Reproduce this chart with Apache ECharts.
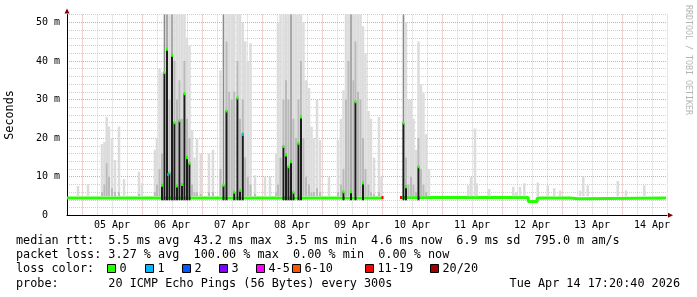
<!DOCTYPE html>
<html><head><meta charset="utf-8">
<script src="https://cdn.jsdelivr.net/npm/echarts@6/dist/echarts.min.js"></script>
<style>html,body{margin:0;padding:0;background:#fff}#c{width:697px;height:297px}</style>
</head><body><div id="c"></div>
<script>
// ---- data (x = hours since 04 Apr 00:00, y = milliseconds) ----
const xMin = 18, xMax = 258;
const dayLabelHours = [36, 60, 84, 108, 132, 156, 180, 204, 228, 252];
const dayLabels = ['05 Apr','06 Apr','07 Apr','08 Apr','09 Apr','10 Apr','11 Apr','12 Apr','13 Apr','14 Apr'];
const yTickValues = [0, 10, 20, 30, 40, 50];
const yTickLabels = ['0  ', '10 m', '20 m', '30 m', '40 m', '50 m'];

// smoke columns: hour, highest ping, dense band top, median
const smokeHour = [22.4,26.4,32.0,33.0,33.9,34.8,36.0,37.2,38.8,40.8,46.8,48.0,53.2,
  54,55,56,57,58,59,60,61,62,63,64,65,66,67,68,69,70,71.5,74.8,76.4,
  79.4,80.6,81.8,82.9,83.9,84.9,86.2,87.2,88.3,89.3,90.3,91.4,93.2,97.2,99.2,
  101.7,102.4,103.4,104.6,105.6,106.6,107.6,108.6,109.6,110.6,111.6,112.6,113.6,114.8,115.8,116.8,118.0,119.2,
  122.8,126.4,127.6,128.6,129.6,130.6,131.6,132.6,133.4,134.4,135.4,136.4,137.4,138.6,139.6,140.8,142.8,143.8,
  152.6,153.6,154.6,155.6,156.6,157.6,158.6,159.6,160.6,161.6,162.8,
  178.5,179.6,181.2,181.9,186.9,196.5,197.6,199.2,200.9,206.3,210.3,212.9,215.2,223.2,224.5,226.3,238.3,241.6,248.9];
const smokeMax = [7.6,8.1,18.5,19,25.5,23,20,14.3,23,9.4,11.3,8.3,17,
  20,38,37,55,55,55,55,55,55,55,52,55,46,44,22,15,20,16,16,17,
  37.6,55,55,55,55,55,55,55,50,45,40,44.6,10.4,10,10,
  16,50,55,55,55,55,55,55,55,55,55,50,35,33,23,20,30,19.5,
  10,19.5,25,32.4,55,55,55,55,55,55,55,49,42,27,25,15,25.5,10,
  55,50,30,30,25,17,45,34,31.6,21,12,
  7.8,10,22.5,8.3,6.8,7.4,6,7.4,8.3,8.5,7.8,7,6.4,6.4,10,7.8,8.9,6.4,7.8];
const smokeMid = [5,5,6,8,13.5,10,7,6,6,5,5.5,5,6,
  8,12,16,55,55,30,55,40,30,35,25,40,25,20,8,6,6,5.5,6,6,
  12,55,45,32,30,32,40,25,30,15,10,8,5.5,5,5,
  6,8,15,30,35,30,55,25,20,30,40,20,10,8,6,6,7,6,
  5,6,8,12,30,40,55,35,45,32,30,20,12,8,6,5.5,6,5,
  55,15,8,10,8,6,20,12,8,6,5,
  5,5,5,5,5,5,5,5,5,5,5,5,5,5,5,5,5,5,5];
const smokeMed = [4.5,4.5,4.5,4.5,4.8,4.8,4.5,4.5,4.5,4.5,4.5,4.5,4.5,
  4.6,5,7.8,37,43,11,41.5,24,7.6,24.5,8,31.5,15,13.5,4.8,4.6,4.6,4.6,4.5,4.5,
  4.6,7.8,27,5,5.5,6,30.4,6.5,21,5,4.6,4.5,4.5,4.5,4.5,
  4.5,4.5,5,17.8,15.6,12.6,13.9,6,5.5,18.7,25.5,5,4.6,4.5,4.5,4.5,4.5,4.5,
  4.5,4.5,4.5,6.1,5,5.5,6.1,5.5,29.4,5.5,5,8.4,5,4.5,4.5,4.5,4.5,4.5,
  23.9,7.4,4.6,4.6,4.5,4.5,12.6,4.6,4.5,4.5,4.5,
  4.5,4.5,4.5,4.5,4.5,4.5,4.5,4.5,4.5,4.5,4.5,4.5,4.5,4.5,4.5,4.5,4.5,4.5,4.5];

// median line (step) at low latency; null = no data
const medianHour  = [18, 144.4, 144.5, 151.6, 202.5, 206.1, 219.2, 222.4, 257.6];
const medianValue = [4.5, 4.5, null, 4.6, 3.6, 4.5, 4.3, 4.5, 4.5];

// medians coloured by packet loss
const lossHour  = [58.5, 88.3, 144.2, 151.6];
const lossValue = [10.6, 21, 4.6, 4.6];
const lossLevel = [1, 1, 6, 6];

const lossLabels = ['0','1','2','3','4-5','6-10','11-19','20/20'];
const lossColors = ['#26ff00','#00b8ff','#0059ff','#7e00ff','#ff00ff','#ff5500','#ff0000','#a10000'];

const legendLines = [
  'median rtt:  5.5 ms avg  43.2 ms max  3.5 ms min  4.6 ms now  6.9 ms sd  795.0 m am/s',
  'packet loss: 3.27 % avg  100.00 % max  0.00 % min  0.00 % now',
  'loss color:',
  'probe:       20 ICMP Echo Pings (56 Bytes) every 300s'
];
const stampText = 'Tue Apr 14 17:20:40 2026';
const creditText = 'RRDTOOL / TOBI OETIKER';

// ---- styles ----
const MONO = '"DejaVu Sans Mono", monospace';
const GRID = 'rgba(191,191,191,0.75)';
const MGRID = 'rgba(230,128,128,0.75)';
const ARROW = '#800000';
const SMOKE_FLOOR = 4.95;

function renderSmoke(params, api) {
  const h = api.value(0), top = api.value(1), mid = api.value(2), med = api.value(3);
  const w = api.size([1, 0])[0];
  const cx = api.coord([h, 0])[0];
  const yb = api.coord([h, SMOKE_FLOOR])[1];
  const kids = [];
  const yt = api.coord([h, top])[1];
  kids.push({type:'rect', shape:{x:cx - w/2, y:yt, width:w, height:yb - yt}, style:{fill:'#dcdcdc'}});
  if (mid > SMOKE_FLOOR + 0.3) {
    const ym = api.coord([h, mid])[1];
    const full = mid > 50;
    kids.push({type:'rect', shape:{x:cx - w*(full ? 0.25 : 0.4), y:ym, width:w*(full ? 0.5 : 0.8), height:yb - ym}, style:{fill: full ? '#8a8a8a' : '#bababa'}});
  }
  if (med > 5.6) {
    const yd = api.coord([h, med])[1];
    const y0 = api.coord([h, 3.9])[1];
    kids.push({type:'rect', shape:{x:cx - w*0.4, y:yd, width:w*0.8, height:y0 - yd}, style:{fill:'#1c1c1c'}});
    kids.push({type:'rect', shape:{x:cx - w*0.4, y:yd - 1.5, width:w*0.8, height:3}, style:{fill:lossColors[0]}});
  }
  return {type:'group', children:kids};
}
function renderLoss(params, api) {
  const h = api.value(0), v = api.value(1), lv = api.value(2);
  const w = api.size([1, 0])[0];
  const p = api.coord([h, v]);
  return {type:'rect', shape:{x:p[0] - w*0.4, y:p[1] - 1.5, width:w*0.8, height:3}, style:{fill:lossColors[lv]}};
}

const chart = echarts.init(document.getElementById('c'), null, {renderer:'canvas'});
const graphics = [];
const lineY = [241, 255.2, 269.4, 283.6];
legendLines.forEach((t, i) => {
  graphics.push({type:'text', x:16, y:lineY[i], style:{text:t, font:'11.8px ' + MONO, fill:'#000', verticalAlign:'middle', textVerticalAlign:'middle'}});
});
graphics.push({type:'text', x:680, y:lineY[3], style:{text:stampText, font:'11.8px ' + MONO, fill:'#000', align:'right', textAlign:'right', verticalAlign:'middle', textVerticalAlign:'middle'}});
const boxX = [107.5, 145.5, 182.5, 219.5, 256.5, 292.5, 365.5, 430.5];
lossLabels.forEach((t, i) => {
  graphics.push({type:'rect', shape:{x:boxX[i], y:264.5, width:8, height:8}, style:{fill:lossColors[i], stroke:'#000', lineWidth:1}});
  graphics.push({type:'text', x:boxX[i] + 12, y:lineY[2], style:{text:t, font:'11.8px ' + MONO, fill:'#000', verticalAlign:'middle', textVerticalAlign:'middle'}});
});
graphics.push({type:'text', x:688, y:60, rotation:-Math.PI/2, style:{text:creditText, font:'8.3px ' + MONO, fill:'#b4b4b4', align:'center', textAlign:'center', verticalAlign:'middle', textVerticalAlign:'middle'}});

chart.setOption({
  animation:false,
  backgroundColor:'#fff',
  grid:{left:67, right:30, top:14.6, bottom:81.7, containLabel:false, outerBoundsMode:'none'},
  xAxis:[{
    type:'value', min:xMin, max:xMax, interval:6,
    axisLine:{show:true, onZero:false, lineStyle:{color:'#000', width:1}},
    axisTick:{show:false},
    axisLabel:{
      formatter:(v) => { const k = dayLabelHours.indexOf(v); return k >= 0 ? dayLabels[k] : ''; },
      color:'#000', fontFamily:MONO, fontSize:10, margin:5, showMinLabel:true, showMaxLabel:true, hideOverlap:false
    },
    splitLine:{show:true, lineStyle:{color:[GRID, MGRID, GRID, GRID], type:[1,1], width:1}}
  },{
    type:'value', min:xMin, max:xMax, position:'bottom',
    axisLine:{show:true, onZero:false, symbol:['none','triangle'], symbolSize:[5,5], symbolOffset:[0,3.5], lineStyle:{color:ARROW, width:0.01}},
    axisTick:{show:false}, axisLabel:{show:false}, splitLine:{show:false}
  }],
  yAxis:[{
    type:'value', min:0, max:52, interval:2,
    name:'Seconds', nameLocation:'middle', nameGap:51,
    nameTextStyle:{fontFamily:MONO, fontSize:11.8, color:'#000'},
    axisLine:{show:true, onZero:false, lineStyle:{color:'#000', width:1}},
    axisTick:{show:false},
    axisLabel:{
      formatter:(v) => { const k = yTickValues.indexOf(v); return k >= 0 ? yTickLabels[k] : ''; },
      color:'#000', fontFamily:MONO, fontSize:10, margin:7, showMinLabel:true, showMaxLabel:true, hideOverlap:false
    },
    splitLine:{show:true, lineStyle:{color:[MGRID, GRID, GRID, GRID, GRID], type:[1,1], width:1}}
  },{
    type:'value', min:0, max:52, position:'left',
    axisLine:{show:true, onZero:false, symbol:['none','triangle'], symbolSize:[5,5], symbolOffset:[0,3.5], lineStyle:{color:ARROW, width:0.01}},
    axisTick:{show:false}, axisLabel:{show:false}, splitLine:{show:false}
  }],
  series:[
    {
      type:'line', name:'median', step:'end', symbol:'none', z:1, connectNulls:false,
      data: medianHour.map((h, i) => [h, medianValue[i] === null ? '-' : medianValue[i]]),
      lineStyle:{color:lossColors[0], width:3}, silent:true
    },
    {
      type:'custom', name:'smoke', z:2, clip:true, silent:true,
      data: smokeHour.map((h, i) => [h, smokeMax[i], smokeMid[i], smokeMed[i]]),
      encode:{x:0, y:[1,2,3]},
      renderItem: renderSmoke
    },
    {
      type:'custom', name:'loss', z:3, clip:true, silent:true,
      data: lossHour.map((h, i) => [h, lossValue[i], lossLevel[i]]),
      encode:{x:0, y:1},
      renderItem: renderLoss
    }
  ],
  graphic: graphics
});
</script>
</body></html>
